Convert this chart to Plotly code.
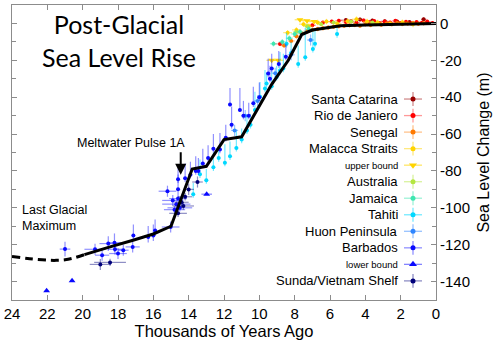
import plotly.graph_objects as go

# ---------------- data: age (ka BP), sea level (m), and 1-sigma errors ----------------
sc_age = [5.1, 4.3, 3.6, 2.9, 2.2, 1.5, 0.7]
sc_lvl = [1.8, 2.2, 1.6, 1.2, 1.0, 0.8, 2.3]
sc_dage = [0.3, 0.3, 0.2, 0.2, 0.2, 0.2, 0.15]
sc_dlvl = [1.0, 1.0, 1.0, 1.0, 1.0, 1.0, 1.0]

rio_age = [8.83, 7.0, 6.4, 5.9, 5.5, 5.1, 4.8, 4.5, 4.1, 3.8, 3.5, 3.2, 2.9, 2.6, 2.3,
           2.0, 1.7, 1.4, 1.1, 0.8, 0.5, 0.2]
rio_lvl = [-11.1, -1.0, 0.5, 1.0, 1.5, 0.8, 1.2, 0.4, 1.6, 0.6, 1.3, 0.2, 1.0, 0.5, 1.4,
           0.3, 0.9, 0.0, 0.8, 0.4, 1.0, 0.2]
rio_dage = [0.4] + [0.2] * 21
rio_dlvl = [1.0] * 22

sen_age = [8.6, 8.2, 7.9, 7.6, 7.3, 7.0, 6.7, 6.4, 6.1, 5.8, 5.5, 5.2, 4.9, 4.6, 4.3, 4.0,
           3.7, 3.4, 3.1, 2.8, 2.5, 2.2, 1.9, 1.6, 1.3, 1.0, 0.7]
sen_lvl = [-12.0, -9.5, -7.0, -5.5, -4.2, -3.5, -3.0, -2.6, -2.2, -1.8, -1.5, -1.3, -1.0,
           -0.8, -1.2, -0.5, -0.9, -0.3, -0.7, 0.0, -0.4, 0.2, -0.3, 0.0, 0.3, -0.2, 0.1]
sen_dage = [0.2] * 27
sen_dlvl = [1.2] * 27

mal_age = [8.4, 7.9, 7.5, 7.2, 6.7, 6.2, 5.6, 5.0, 4.5, 3.9, 3.3, 2.6, 1.9, 1.3]
mal_lvl = [-5.0, -3.5, -0.4, -1.5, 0.5, 1.0, 0.0, 1.2, 2.3, 1.0, 0.5, 0.0, 0.6, -0.5]
mal_dage = [0.25] * 14
mal_dlvl = [1.5] * 14

ub_age = [9.3, 8.93, 7.7, 7.3, 6.9]
ub_lvl = [-20.0, -20.0, 2.0, 1.5, 1.0]
ub_dage = [0.3, 0.3, 0.3, 0.3, 0.3]

aus_age = [7.9, 7.3, 6.5, 5.8, 4.8, 3.6]
aus_lvl = [-4.5, -1.5, -0.5, 0.5, 1.0, 0.5]
aus_dage = [0.2] * 6
aus_dlvl = [1.0] * 6

jam_age = [9.2, 8.7, 8.3, 8.0, 7.7, 7.2]
jam_lvl = [-11.0, -10.0, -8.0, -5.7, -4.5, -3.0]
jam_dage = [0.2] * 6
jam_dlvl = [1.5] * 6

tah_age = [13.74, 13.36, 13.0, 12.6, 12.3, 11.95, 11.66, 11.3, 11.0, 10.7, 10.5, 10.25,
           9.96, 9.68, 9.59, 9.3, 9.02, 8.83, 8.64, 8.46, 8.2, 7.8, 7.4, 6.97, 6.85, 5.6]
tah_lvl = [-92.6, -81.8, -85.0, -78.0, -73.0, -75.5, -72.0, -67.5, -63.0, -58.0, -55.0,
           -47.0, -39.8, -35.3, -32.6, -34.0, -29.0, -25.5, -24.5, -11.0, -16.0, -22.0,
           -18.3, -13.8, -11.0, -5.7]
tah_dage = [0.1] * 26
tah_up = [6, 8, 6, 8, 6, 10, 8, 10, 6, 8, 6, 10, 8, 10, 6, 8, 6, 10, 8, 6, 6, 10, 16, 10,
          8, 4]
tah_dn = [2] * 26

huon_age = [11.4, 10.8, 10.1, 9.1, 8.2, 7.1]
huon_lvl = [-58.0, -50.0, -42.0, -27.0, -17.0, -9.0]
huon_dage = [0.2] * 6
huon_dlvl = [3.0] * 6

bar_age = [21.0, 19.3, 18.9, 18.55, 18.2, 18.17, 18.0, 17.7, 17.17, 17.13, 16.29, 16.0,
           15.9, 15.02, 15.2, 14.9, 14.8, 14.7, 14.6, 14.5, 14.6, 14.6, 14.2, 13.9, 13.6,
           13.45, 13.2, 12.9, 12.6, 12.23, 11.9, 11.66, 11.57, 11.1, 10.9, 10.6, 10.34,
           10.0, 9.5, 9.4, 9.3, 8.9, 8.5]
bar_lvl = [-122.4, -122.5, -125.7, -119.4, -118.9, -122.5, -124.8, -123.0, -121.2, -115.0,
           -115.8, -115.0, -112.3, -110.4, -91.0, -96.0, -101.0, -98.0, -95.0, -100.0,
           -89.9, -84.5, -84.0, -82.0, -80.0, -80.0, -76.0, -73.0, -68.0, -68.4, -62.0,
           -44.0, -55.0, -47.0, -50.0, -50.0, -43.3, -40.0, -27.2, -30.0, -24.5, -22.0,
           -18.0]
bar_dage = [0.3, 0.6, 0.4, 0.5, 0.4, 0.4, 0.5, 0.3, 0.4, 0.1, 0.1, 0.1, 0.1, 0.5, 0.5,
            0.6, 0.6, 0.8, 0.5, 0.7, 0.1, 0.1, 0.1, 0.1, 0.1, 0.1, 0.1, 0.1, 0.1, 0.1, 0.1,
            0.1, 0.1, 0.1, 0.1, 0.1, 0.1, 0.1, 0.1, 0.1, 0.1, 0.1, 0.1]
bar_up = [4, 3, 3, 4, 5, 3, 3, 3, 3, 6, 6, 6, 6, 3, 3, 3, 2, 2, 3, 2, 8, 6, 8, 7, 8, 7,
          8, 7, 8, 9, 7, 9, 10, 12, 8, 7, 9, 8, 8, 7, 8, 7, 7]
bar_dn = [4, 3, 3, 4, 5, 3, 3, 3, 3, 3, 3, 3, 3, 3, 3, 3, 2, 2, 3, 2, 2, 2, 2, 2, 2, 2,
          2, 2, 2, 2, 2, 1, 2, 1, 2, 2, 2, 2, 2, 2, 2, 2, 2]

lb_age = [22.04, 20.6, 12.98]
lb_lvl = [-145.0, -139.6, -92.6]
lb_dage = [0.1, 0.1, 0.3]

sun_age = [19.0, 18.45, 14.6, 14.4, 14.3, 14.2, 14.0, 13.5]
sun_lvl = [-130.7, -129.6, -103.0, -97.0, -99.0, -94.0, -90.0, -86.0]
sun_dage = [0.6, 0.9, 0.5, 0.4, 0.6, 0.4, 0.3, 0.3]
sun_dlvl = [3, 2, 2, 3, 2, 2, 3, 3]

# smoothed sea level curve: speculative part before 20 ka, then the reconstruction
lgm_age = [24.0, 23.0, 22.0, 21.5, 21.0, 20.5, 19.9]
lgm_lvl = [-126.4, -127.6, -128.4, -128.5, -128.2, -127.2, -125.4]
curve_age = [19.9, 19.0, 18.45, 17.15, 16.0, 15.0, 13.8, 13.0, 12.0, 11.0, 9.3, 8.36,
             7.98, 7.6, 7.0, 6.0, 5.4, 4.0, 2.0, 0.0]
curve_lvl = [-125.4, -122.7, -121.2, -117.6, -114.2, -110.0, -79.0, -77.5, -63.0, -61.5,
             -33.0, -20.0, -13.0, -6.0, -3.6, -2.2, -1.3, -0.8, -0.3, 0.0]

X_TICKS = [24, 22, 20, 18, 16, 14, 12, 10, 8, 6, 4, 2, 0]
Y_TICKS = [0, -20, -40, -60, -80, -100, -120, -140]

# ---------------- series styling ----------------
series = [
    dict(name="Santa Catarina", x=sc_age, y=sc_lvl, ex=sc_dage, ey=sc_dlvl,
         color="#9a0000", bar="rgba(154,0,0,0.45)", symbol="circle", big=True),
    dict(name="Rio de Janiero", x=rio_age, y=rio_lvl, ex=rio_dage, ey=rio_dlvl,
         color="#ff0000", bar="rgba(255,0,0,0.40)", symbol="circle", big=True),
    dict(name="Senegal", x=sen_age, y=sen_lvl, ex=sen_dage, ey=sen_dlvl,
         color="#ff7a00", bar="rgba(255,122,0,0.45)", symbol="circle", big=True),
    dict(name="Malacca Straits", x=mal_age, y=mal_lvl, ex=mal_dage, ey=mal_dlvl,
         color="#ffd400", bar="rgba(255,212,0,0.5)", symbol="circle", big=True),
    dict(name="upper bound", x=ub_age, y=ub_lvl, ex=ub_dage, ey=None,
         color="#ffd400", bar="rgba(255,212,0,0.6)", symbol="triangle-down", big=False),
    dict(name="Australia", x=aus_age, y=aus_lvl, ex=aus_dage, ey=aus_dlvl,
         color="#b4e640", bar="rgba(180,230,64,0.5)", symbol="circle", big=True),
    dict(name="Jamaica", x=jam_age, y=jam_lvl, ex=jam_dage, ey=jam_dlvl,
         color="#3ee6b0", bar="rgba(62,230,176,0.5)", symbol="circle", big=True),
    dict(name="Tahiti", x=tah_age, y=tah_lvl, ex=tah_dage, ey=(tah_up, tah_dn),
         color="#00d8ff", bar="rgba(0,216,255,0.55)", symbol="circle", big=True),
    dict(name="Huon Peninsula", x=huon_age, y=huon_lvl, ex=huon_dage, ey=huon_dlvl,
         color="#2f86ff", bar="rgba(47,134,255,0.5)", symbol="circle", big=True),
    dict(name="Barbados", x=bar_age, y=bar_lvl, ex=bar_dage, ey=(bar_up, bar_dn),
         color="#0a0aff", bar="rgba(10,10,255,0.45)", symbol="circle", big=True),
    dict(name="lower bound", x=lb_age, y=lb_lvl, ex=lb_dage, ey=None,
         color="#0a0aff", bar="rgba(10,10,255,0.5)", symbol="triangle-up", big=False),
    dict(name="Sunda/Vietnam Shelf", x=sun_age, y=sun_lvl, ex=sun_dage, ey=sun_dlvl,
         color="#00007a", bar="rgba(30,30,140,0.5)", symbol="circle", big=True),
]

FONT = "Liberation Sans, Arial, sans-serif"

fig = go.Figure()

for s in series:
    err_y = dict(visible=False)
    if isinstance(s["ey"], tuple):
        err_y = dict(type="data", symmetric=False, array=s["ey"][0],
                     arrayminus=s["ey"][1], color=s["bar"], thickness=1.2, width=0)
    elif s["ey"] is not None:
        err_y = dict(type="data", array=s["ey"], color=s["bar"], thickness=1.2, width=0)
    fig.add_trace(go.Scatter(
        x=s["x"], y=s["y"], mode="markers", name=s["name"], showlegend=False,
        marker=dict(color=s["color"], size=4 if s["symbol"] == "circle" else 6,
                    symbol=s["symbol"], line=dict(width=0)),
        error_x=dict(type="data", array=s["ex"], color=s["bar"], thickness=1.2, width=0),
        error_y=err_y,
    ))

# reconstruction curve drawn over the observations
fig.add_trace(go.Scatter(x=lgm_age, y=lgm_lvl, mode="lines", showlegend=False,
                         line=dict(color="black", width=3, dash="8px,5px"),
                         line_shape="spline"))
fig.add_trace(go.Scatter(x=curve_age, y=curve_lvl, mode="lines", showlegend=False,
                         line=dict(color="black", width=3)))

# ---------------- hand-built legend: label on the left, glyph on the right ----------------
PLOT_L, PLOT_R, PLOT_T, PLOT_B = 12, 436, 4, 302


def px_to_paper(px, py):
    return (px - PLOT_L) / (PLOT_R - PLOT_L), (PLOT_B - py) / (PLOT_B - PLOT_T)


row_top, row_step = 99.0, 16.7
for i, s in enumerate(series):
    py = row_top + i * row_step
    tx, ty = px_to_paper(400, py)
    gx, gy = px_to_paper(413, py)
    fig.add_annotation(x=tx, y=ty, xref="paper", yref="paper", text=s["name"],
                       showarrow=False, xanchor="right", yanchor="middle",
                       font=dict(family=FONT, size=13 if s["big"] else 9.5, color="black"))
    fig.add_trace(go.Scatter(
        x=[gx], y=[gy], xaxis="x2", yaxis="y2", mode="markers", showlegend=False,
        hoverinfo="skip",
        marker=dict(color=s["color"], size=5 if s["big"] else 7, symbol=s["symbol"]),
        error_x=dict(type="constant", value=9 / (PLOT_R - PLOT_L), color=s["bar"],
                     thickness=1.3, width=0),
        error_y=(dict(type="constant", value=7 / (PLOT_B - PLOT_T), color=s["bar"],
                      thickness=1.3, width=0) if s["big"] else dict(visible=False)),
    ))

# ---------------- text annotations ----------------
tx, ty = px_to_paper(119, 40)
fig.add_annotation(x=tx, y=ty, xref="paper", yref="paper",
                   text="Post-Glacial<br>Sea Level Rise", showarrow=False,
                   xanchor="center", yanchor="middle", align="center",
                   font=dict(family="Lato, Open Sans, sans-serif", size=25, color="black"))

tx, ty = px_to_paper(131, 143)
fig.add_annotation(x=tx, y=ty, xref="paper", yref="paper", text="Meltwater Pulse 1A",
                   showarrow=False, xanchor="center", yanchor="middle",
                   font=dict(family=FONT, size=12.5, color="black"))
fig.add_annotation(x=14.45, y=-82, xref="x", yref="y", text="",
                   showarrow=True, arrowhead=2, arrowsize=1.1, arrowwidth=2,
                   arrowcolor="black", ax=0, ay=-24, standoff=0)

tx, ty = px_to_paper(20, 219)
fig.add_annotation(x=tx, y=ty, xref="paper", yref="paper",
                   text="Last Glacial<br>Maximum", showarrow=False,
                   xanchor="left", yanchor="middle", align="left",
                   font=dict(family=FONT, size=12.5, color="black"))

axis_common = dict(showline=True, linecolor="#8c8c8c", linewidth=1, mirror="ticks",
                   ticks="inside", ticklen=5, tickcolor="#8c8c8c", showgrid=False,
                   zeroline=False, tickfont=dict(family=FONT, size=15, color="black"))

fig.update_layout(
    width=500, height=342,
    margin=dict(l=PLOT_L, r=500 - PLOT_R, t=PLOT_T, b=342 - PLOT_B),
    paper_bgcolor="white", plot_bgcolor="white",
    showlegend=False,
    xaxis=dict(range=[24, 0], tickvals=X_TICKS, ticktext=[str(v) for v in X_TICKS],
               title=dict(text="Thousands of Years Ago", standoff=4,
                          font=dict(family=FONT, size=16.5, color="black")),
               **axis_common),
    yaxis=dict(range=[-150, 10], side="right", tickvals=Y_TICKS,
               ticktext=[str(v) for v in Y_TICKS],
               minor=dict(dtick=10, ticks="inside", ticklen=4, tickcolor="#8c8c8c"),
               title=dict(text="Sea Level Change (m)", standoff=8,
                          font=dict(family=FONT, size=16, color="black")),
               **axis_common),
    xaxis2=dict(range=[0, 1], overlaying="x", visible=False, fixedrange=True),
    yaxis2=dict(range=[0, 1], overlaying="y", visible=False, fixedrange=True),
)

fig.write_html("out.html")
